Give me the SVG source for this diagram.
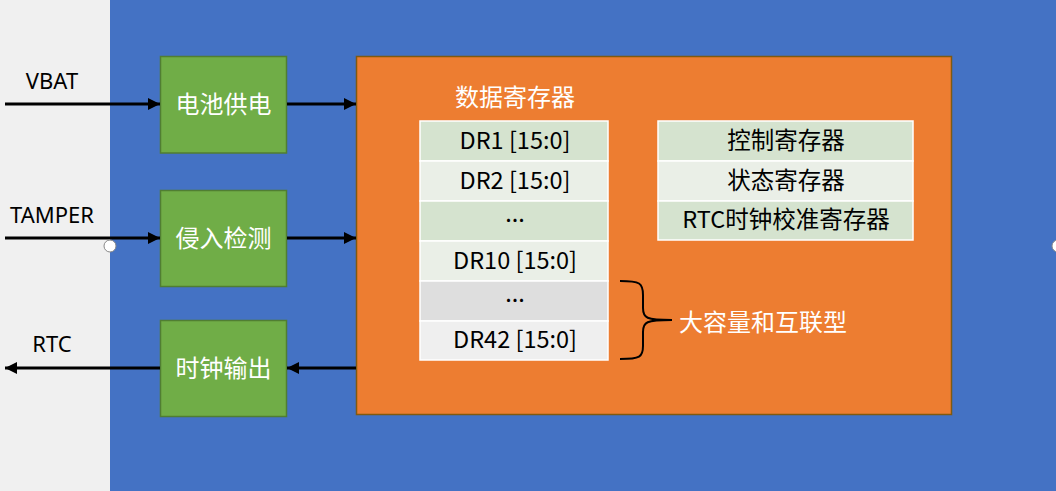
<svg xmlns="http://www.w3.org/2000/svg" width="1056" height="491" viewBox="0 0 1056 491">
<defs>
<marker id="ah" viewBox="0 0 10 10" refX="10" refY="5" markerWidth="4" markerHeight="4" orient="auto" markerUnits="strokeWidth">
<path d="M0,0 L10,5 L0,10 z" fill="#000"/>
</marker>
<style>
.lbl{font-family:"Noto Sans","Noto Sans CJK SC",sans-serif;font-size:22px;fill:#000;text-anchor:middle}
.gt{font-family:"Noto Sans CJK SC",sans-serif;font-size:24px;fill:#fff;text-anchor:middle}
.green{fill:#70AD47;stroke:#507E32;stroke-width:1.5}
.cell{stroke:#fff;stroke-width:1.5}
.ct{font-family:"Noto Sans CJK SC",sans-serif;font-size:23.5px;fill:#000;text-anchor:middle}
.wire{stroke:#000;stroke-width:3;fill:none;marker-end:url(#ah)}
</style>
</defs>
<rect x="0" y="0" width="1056" height="491" fill="#4472C4"/>
<rect x="0" y="0" width="110" height="491" fill="#F0F0F0"/>

<g id="orange">
<rect x="356.5" y="56.5" width="595" height="358" fill="#ED7D31" stroke="#7F5A10" stroke-width="1.5"/>
</g>

<g id="n-vbat"><text class="lbl" x="52" y="89">VBAT</text></g>
<g id="n-tamper"><text class="lbl" x="52" y="223">TAMPER</text></g>
<g id="n-rtc"><text class="lbl" x="52" y="352">RTC</text></g>

<g id="n-power"><rect class="green" x="160.5" y="56.5" width="126" height="96.5"/><text class="gt" x="223.5" y="113">电池供电</text></g>
<g id="n-tamperdet"><rect class="green" x="160.5" y="190.5" width="126" height="96"/><text class="gt" x="223.5" y="247">侵入检测</text></g>
<g id="n-clkout"><rect class="green" x="160.5" y="320.5" width="126" height="96"/><text class="gt" x="223.5" y="377">时钟输出</text></g>

<g id="connectors">
<line class="wire" x1="5" y1="104" x2="160" y2="104"/>
<line class="wire" x1="287" y1="104" x2="356" y2="104"/>
<line class="wire" x1="5" y1="238" x2="160" y2="238"/>
<line class="wire" x1="287" y1="238" x2="356" y2="238"/>
<line class="wire" x1="356" y1="368" x2="287" y2="368"/>
<line class="wire" x1="160" y1="368" x2="5" y2="368"/>
</g>

<g id="dataregs">
<text class="gt" x="515" y="106">数据寄存器</text>
<rect class="cell" x="420" y="121" width="188" height="40" fill="#D5E3CF"/>
<rect class="cell" x="420" y="161" width="188" height="40" fill="#EAEFE7"/>
<rect class="cell" x="420" y="201" width="188" height="40" fill="#D5E3CF"/>
<rect class="cell" x="420" y="241" width="188" height="40" fill="#EAEFE7"/>
<rect class="cell" x="420" y="281" width="188" height="40" fill="#DEDEDE"/>
<rect class="cell" x="420" y="321" width="188" height="39" fill="#EFEFEF"/>
<text class="ct" x="515" y="149">DR1 [15:0]</text>
<text class="ct" x="515" y="189">DR2 [15:0]</text>
<text class="ct" x="515" y="222">...</text>
<text class="ct" x="515" y="269">DR10 [15:0]</text>
<text class="ct" x="515" y="302">...</text>
<text class="ct" x="515" y="348">DR42 [15:0]</text>
</g>

<g id="ctrlregs">
<rect class="cell" x="658" y="121" width="255" height="40" fill="#D5E3CF"/>
<rect class="cell" x="658" y="161" width="255" height="40" fill="#EAEFE7"/>
<rect class="cell" x="658" y="201" width="255" height="39" fill="#D5E3CF"/>
<text class="ct" x="786" y="149">控制寄存器</text>
<text class="ct" x="786" y="189">状态寄存器</text>
<text class="ct" x="786" y="228">RTC时钟校准寄存器</text>
</g>

<g id="brace">
<path d="M620,281 C640,281 643,283 643,295 L643,308 C643,318 646,320 672,320 C646,320 643,322 643,332 L643,346 C643,357 640,359 620,359" fill="none" stroke="#000" stroke-width="2"/>
<text class="gt" x="679" y="331" style="text-anchor:start">大容量和互联型</text>
</g>

<g id="handles">
<circle cx="110" cy="246" r="6" fill="#fff" stroke="#888" stroke-width="1"/>
<circle cx="1058" cy="246" r="6" fill="#fff" stroke="#888" stroke-width="1"/>
</g>
</svg>
